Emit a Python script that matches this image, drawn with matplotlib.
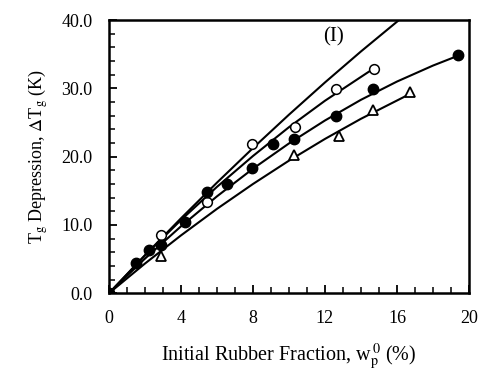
import matplotlib
matplotlib.use("Agg")
import matplotlib.pyplot as plt
from matplotlib.ticker import MultipleLocator, FormatStrFormatter

plt.rcParams["font.family"] = ["Liberation Serif", "DejaVu Serif"]
plt.rcParams["mathtext.fontset"] = "stix"

# measured points
open_x = [0, 2.87, 5.45, 7.95, 10.35, 12.6, 14.7]
open_y = [0, 8.5, 13.4, 21.8, 24.4, 29.9, 32.9]

filled_x = [0, 1.52, 2.22, 2.92, 4.22, 5.45, 6.57, 7.95, 9.12, 10.26, 12.6, 14.67, 19.41]
filled_y = [0, 4.5, 6.3, 7.1, 10.5, 14.8, 16.0, 18.4, 21.8, 22.6, 26.0, 29.9, 34.9]

tri_x = [0, 2.87, 10.3, 12.76, 14.67, 16.73]
tri_y = [0, 5.4, 20.3, 23.1, 26.9, 29.4]

# fitted curves
line1_x = [0, 2, 4, 6, 8, 10, 12, 14, 16.5]
line1_y = [0, 5.57, 10.97, 16.2, 21.26, 26.15, 30.87, 35.41, 40.85]

open_fit_x = [0, 2, 4, 6, 8, 10, 12, 14.7]
open_fit_y = [0, 5.53, 10.72, 15.58, 20.1, 24.32, 28.19, 32.9]

filled_fit_x = [0, 2, 4, 6, 8, 10, 12, 14, 16, 18, 19.41]
filled_fit_y = [0, 5.07, 9.8, 14.19, 18.24, 21.94, 25.3, 28.33, 31.0, 33.34, 34.8]

tri_fit_x = [0, 2, 4, 6, 8, 10, 12, 14, 16.73]
tri_fit_y = [0, 4.35, 8.47, 12.36, 16.0, 19.42, 22.6, 25.55, 29.2]

fig = plt.figure(figsize=(4.82, 3.72), dpi=100)
ax = fig.add_axes([0.226, 0.2116, 0.747, 0.7344])

lw = 1.5
ax.plot(line1_x, line1_y, color="black", lw=lw)
ax.plot(open_fit_x, open_fit_y, color="black", lw=lw)
ax.plot(filled_fit_x, filled_fit_y, color="black", lw=lw)
ax.plot(tri_fit_x, tri_fit_y, color="black", lw=lw)

ax.plot(open_x, open_y, "o", ms=7, mfc="white", mec="black", mew=1.1, ls="none")
ax.plot(filled_x, filled_y, "o", ms=7.5, mfc="black", mec="black", ls="none")
ax.plot(tri_x, tri_y, "^", ms=7, mfc="white", mec="black", mew=1.3, ls="none")

ax.text(12.5, 37.6, "(I)", fontsize=15, ha="center", va="center")

ax.set_xlim(0, 20)
ax.set_ylim(0, 40)
ax.xaxis.set_major_locator(MultipleLocator(4))
ax.xaxis.set_minor_locator(MultipleLocator(1))
ax.yaxis.set_major_locator(MultipleLocator(10))
ax.yaxis.set_minor_locator(MultipleLocator(2))
ax.yaxis.set_major_formatter(FormatStrFormatter("%.1f"))
ax.tick_params(which="both", direction="in", top=False, right=False, labelsize=13)
ax.tick_params(which="major", length=6, width=1.3, pad=12)
ax.tick_params(which="minor", length=4, width=1.1)
for s in ax.spines.values():
    s.set_linewidth(1.8)

ax.set_xlabel(r"Initial Rubber Fraction, w$_\mathrm{p}^{\,0}$ (%)", fontsize=14.5)
ax.set_ylabel(r"T$_\mathrm{g}$ Depression, $\Delta$T$_\mathrm{g}$ (K)", fontsize=13)
ax.xaxis.set_label_coords(0.5, -0.175)
ax.yaxis.set_label_coords(-0.165, 0.5)

fig.savefig("out.png", dpi=100)
